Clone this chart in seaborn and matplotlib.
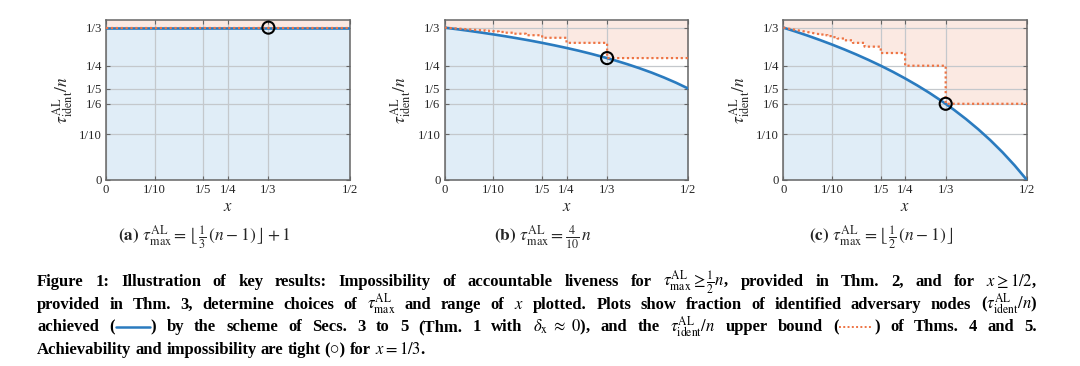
import numpy as np
import pandas as pd
import matplotlib
matplotlib.use("Agg")
import matplotlib.pyplot as plt
from matplotlib.lines import Line2D
import seaborn as sns

# ---------------- data ----------------
x_ticks = [0.0, 0.1, 0.2, 0.25, 0.3333, 0.5]
x_ticklabels = ["0", "1/10", "1/5", "1/4", "1/3", "1/2"]
y_ticks = [0.0, 0.1, 0.1667, 0.2, 0.25, 0.3333]
y_ticklabels = ["0", "1/10", "1/6", "1/5", "1/4", "1/3"]

# achievable fraction (solid blue)
x_a = [0.0, 0.5]
ach_a = [0.3333, 0.3333]
x_curve = [0.0, 0.025, 0.05, 0.075, 0.1, 0.125, 0.15, 0.175, 0.2, 0.225, 0.25,
           0.275, 0.3, 0.325, 0.35, 0.375, 0.4, 0.425, 0.45, 0.475, 0.5]
ach_b = [0.3333, 0.3299, 0.3263, 0.3225, 0.3185, 0.3143, 0.3098, 0.3051, 0.3000,
         0.2946, 0.2889, 0.2828, 0.2762, 0.2691, 0.2615, 0.2533, 0.2444, 0.2348,
         0.2242, 0.2127, 0.2000]
ach_c = [0.3333, 0.3248, 0.3158, 0.3063, 0.2963, 0.2857, 0.2745, 0.2626, 0.2500,
         0.2366, 0.2222, 0.2069, 0.1905, 0.1728, 0.1538, 0.1333, 0.1111, 0.0870,
         0.0606, 0.0317, 0.0]

# upper bound (dotted orange), step function: left edges of the steps and levels
ub_a_x = [0.0, 0.5]
ub_a = [0.3333, 0.3333]
step_left = [0.0714, 0.0769, 0.0833, 0.0909, 0.1, 0.1111, 0.125, 0.1429,
             0.1667, 0.2, 0.25, 0.3333]
ub_b = [0.3278, 0.3273, 0.3267, 0.3259, 0.3250, 0.3238, 0.3222, 0.3200,
        0.3167, 0.3111, 0.3000, 0.2667]
ub_c = [0.3194, 0.3182, 0.3167, 0.3148, 0.3125, 0.3095, 0.3056, 0.3000,
        0.2917, 0.2778, 0.2500, 0.1667]
x_end = 0.5
y_start = 0.3333

# tight points (circles)
tight_x = [0.3333, 0.3333, 0.3333]
tight_y = [0.3333, 0.2667, 0.1667]

subcaptions = [r"$\tau^{\mathrm{AL}}_{\max} = \lfloor\, \frac{1}{3}\,(n-1)\, \rfloor + 1$",
               r"$\tau^{\mathrm{AL}}_{\max} = \frac{4}{10}\, n$",
               r"$\tau^{\mathrm{AL}}_{\max} = \lfloor\, \frac{1}{2}\,(n-1)\, \rfloor$"]
panel_letters = ["(a)", "(b)", "(c)"]

# ---------------- style ----------------
sns.set_theme(style="ticks")
plt.rcParams["font.family"] = ["Liberation Serif", "DejaVu Serif", "DejaVu Sans"]
plt.rcParams["mathtext.fontset"] = "stix"

BLUE = "#2a7bbf"
BLUE_FILL = "#e0edf7"
ORANGE = "#ee7444"
ORANGE_FILL = "#fbe9e2"
GRID = "#c4c8cc"
SPINE = "#666666"
YTOP = 0.35

fig = plt.figure(figsize=(10.8, 3.66), dpi=100)
W, H = 1080.0, 366.0
lefts = [106.0, 444.7, 783.3]
ax_w, ax_top, ax_bot = 243.6, 20.0, 180.0


def step_path(lefts_, levels):
    xs = [0.0]
    ys = [y_start]
    edges = list(lefts_) + [x_end]
    for i, lv in enumerate(levels):
        xs += [edges[i], edges[i + 1]]
        ys += [lv, lv]
    return np.array(xs), np.array(ys)


panels = [
    (np.array(x_a), np.array(ach_a), np.array(ub_a_x), np.array(ub_a)),
    (np.array(x_curve), np.array(ach_b)) + step_path(step_left, ub_b),
    (np.array(x_curve), np.array(ach_c)) + step_path(step_left, ub_c),
]

axes = []
for i, (xc, yc, xu, yu) in enumerate(panels):
    ax = fig.add_axes([lefts[i] / W, 1 - ax_bot / H, ax_w / W, (ax_bot - ax_top) / H])
    axes.append(ax)
    ax.fill_between(xc, 0, yc, color=BLUE_FILL, lw=0, zorder=1)
    ax.fill_between(xu, yu, YTOP, color=ORANGE_FILL, lw=0, zorder=1)
    sns.lineplot(x=xc, y=yc, ax=ax, color=BLUE, lw=1.9, sort=False,
                 estimator=None, zorder=3)
    sns.lineplot(x=xu, y=yu, ax=ax, color=ORANGE, lw=1.6, sort=False,
                 estimator=None, zorder=4, linestyle=(0, (1, 1.2)))
    sns.scatterplot(x=[tight_x[i]], y=[tight_y[i]], ax=ax, s=75, marker="o",
                    facecolor="none", edgecolor="black", linewidth=1.5, zorder=6)
    ax.set_xlim(0, 0.5)
    ax.set_ylim(0, YTOP)
    ax.set_xticks(x_ticks)
    ax.set_xticklabels(x_ticklabels)
    ax.set_yticks(y_ticks)
    ax.set_yticklabels(y_ticklabels)
    ax.set_axisbelow("line")
    ax.grid(True, color=GRID, lw=0.9)
    ax.tick_params(direction="in", length=3, width=0.8, color=SPINE,
                   labelsize=9.2, pad=3, top=True, right=True)
    for sp in ax.spines.values():
        sp.set_color(SPINE)
        sp.set_linewidth(1.1)
    ax.set_xlabel(r"$x$", fontsize=12, labelpad=2)
    ax.set_ylabel(r"$\tau^{\mathrm{AL}}_{\mathrm{ident}}/n$", fontsize=12.5, labelpad=3)

# sub-captions
sub_cx = [204.5, 543.5, 881.0]
for i in range(3):
    fig.text(sub_cx[i] / W, 1 - 241 / H,
             r"$\mathbf{" + panel_letters[i] + r"}$ " + subcaptions[i],
             ha="center", va="baseline", fontsize=12.5)

# ---------------- figure caption ----------------
fig.canvas.draw()
renderer = fig.canvas.get_renderer()
CAP_SIZE = 12.0
cap_kw = dict(fontsize=CAP_SIZE, fontweight="bold")

caption_lines = [
    r"Figure 1: Illustration of key results: Impossibility of accountable liveness for $\tau^{\mathrm{AL}}_{\max}\geq\frac{1}{2}n$, provided in Thm. 2, and for $x\geq1/2$,",
    r"provided in Thm. 3, determine choices of $\tau^{\mathrm{AL}}_{\max}$ and range of $x$ plotted. Plots show fraction of identified adversary nodes ($\tau^{\mathrm{AL}}_{\mathrm{ident}}/n$)",
    r"achieved ([BLUE]) by the scheme of Secs. 3 to 5 (Thm. 1 with $\delta_{\mathrm{x}}\ \approx\ 0$), and the $\tau^{\mathrm{AL}}_{\mathrm{ident}}/n$ upper bound ([DOTS]) of Thms. 4 and 5.",
    r"Achievability and impossibility are tight (○) for $x = 1/3$.",
]
baselines = [286.0, 308.7, 331.3, 354.0]
L, R = 37.0, 1037.0
SYM_W = 36.0


def measure(s):
    t = fig.text(0, 0, s, **cap_kw)
    w = t.get_window_extent(renderer).width
    t.remove()
    return w


def segments(tok):
    out = []
    rest = tok
    while rest:
        ib = rest.find("[BLUE]")
        idt = rest.find("[DOTS]")
        cands = [p for p in (ib, idt) if p >= 0]
        if not cands:
            out.append((rest, None))
            break
        p = min(cands)
        if p > 0:
            out.append((rest[:p], None))
        out.append(("", "blue" if p == ib else "dots"))
        rest = rest[p + 6:]
    return out


space_nat = measure("a a") - measure("aa")
for li, line in enumerate(caption_lines):
    tokens = []
    buf = ""
    inmath = False
    for ch in line:
        if ch == "$":
            inmath = not inmath
        if ch == " " and not inmath:
            tokens.append(buf)
            buf = ""
        else:
            buf += ch
    tokens.append(buf)
    segs = [segments(t) for t in tokens]
    widths = [[(measure(s) if kind is None else SYM_W) for s, kind in sg] for sg in segs]
    total = sum(sum(w) for w in widths)
    if li < 3:
        sp = (R - L - total) / (len(tokens) - 1)
    else:
        sp = space_nat
    yb = 1 - baselines[li] / H
    ymid = 1 - (baselines[li] - 4.5) / H
    x = L
    for sg, ws in zip(segs, widths):
        for (s, kind), w in zip(sg, ws):
            if kind is None:
                fig.text(x / W, yb, s, color="black", ha="left", va="baseline", **cap_kw)
            elif kind == "blue":
                fig.add_artist(Line2D([(x + 1) / W, (x + w - 1) / W], [ymid, ymid],
                                      transform=fig.transFigure, color=BLUE, lw=1.8))
            else:
                fig.add_artist(Line2D([(x + 1) / W, (x + w - 1) / W], [ymid, ymid],
                                      transform=fig.transFigure, color=ORANGE, lw=1.4,
                                      linestyle=(0, (1, 1.2))))
            x += w
        x += sp

fig.savefig("out.png", dpi=100)
